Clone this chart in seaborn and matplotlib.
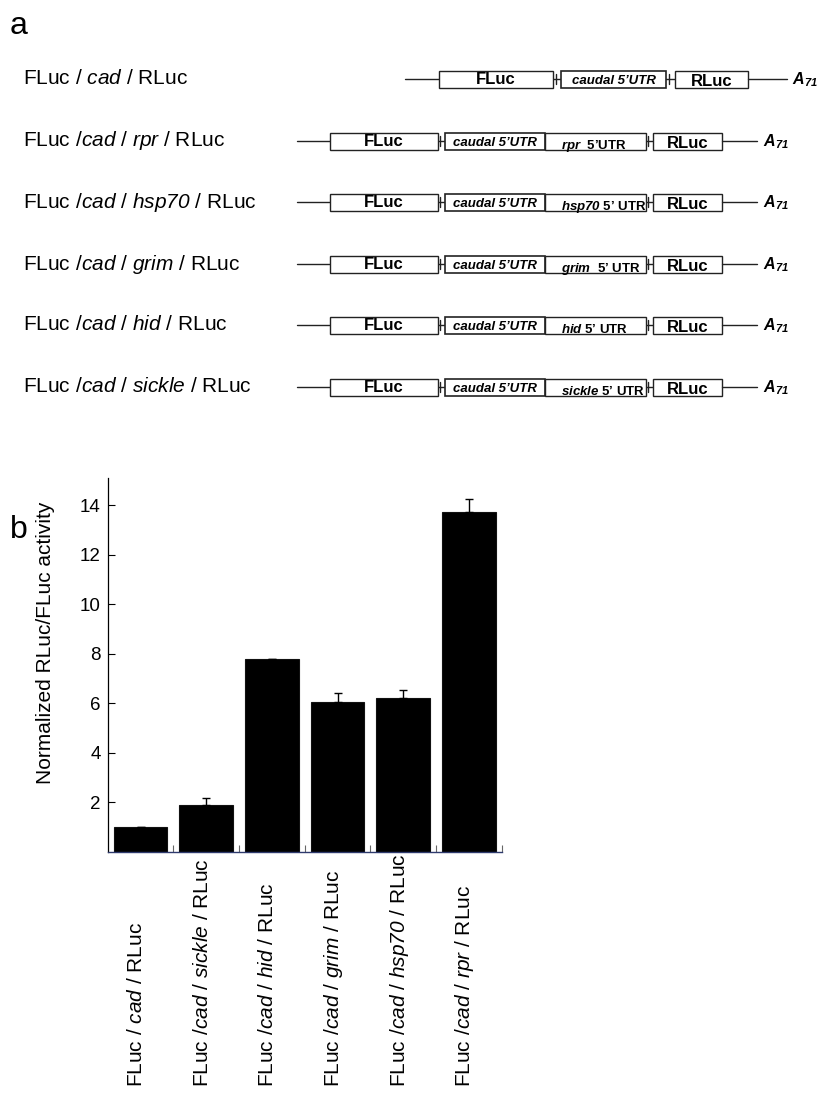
import matplotlib
matplotlib.use("Agg")
import numpy as np
import pandas as pd
import matplotlib.pyplot as plt
import matplotlib.transforms as mtransforms
from matplotlib.patches import Rectangle
import seaborn as sns

# ---- bar chart data (panel b) ----
bar_labels = [
    r"FLuc / $\mathit{cad}$ / RLuc",
    r"FLuc /$\mathit{cad}$ / $\mathit{sickle}$ / RLuc",
    r"FLuc /$\mathit{cad}$ / $\mathit{hid}$ / RLuc",
    r"FLuc /$\mathit{cad}$ / $\mathit{grim}$ / RLuc",
    r"FLuc /$\mathit{cad}$ / $\mathit{hsp70}$ / RLuc",
    r"FLuc /$\mathit{cad}$ / $\mathit{rpr}$ / RLuc",
]
activity = [1.0, 1.9, 7.78, 6.05, 6.22, 13.72]
activity_err = [0.0, 0.28, 0.03, 0.38, 0.34, 0.55]
y_ticks = [2, 4, 6, 8, 10, 12, 14]

# ---- reporter schematics (panel a), top to bottom ----
schematic_labels = [
    r"FLuc / $\mathit{cad}$ / RLuc",
    r"FLuc /$\mathit{cad}$ / $\mathit{rpr}$ / RLuc",
    r"FLuc /$\mathit{cad}$ / $\mathit{hsp70}$ / RLuc",
    r"FLuc /$\mathit{cad}$ / $\mathit{grim}$ / RLuc",
    r"FLuc /$\mathit{cad}$ / $\mathit{hid}$ / RLuc",
    r"FLuc /$\mathit{cad}$ / $\mathit{sickle}$ / RLuc",
]
second_utr = [None, "rpr", "hsp70", "grim", "hid", "sickle"]
second_utr_suffix = [None, "  5\u2019UTR", " 5\u2019 UTR", "  5\u2019 UTR", " 5\u2019 UTR", " 5\u2019 UTR"]

sns.set_style("ticks")
plt.rcParams["font.family"] = ["Liberation Sans", "DejaVu Sans"]
plt.rcParams["text.color"] = "black"
plt.rcParams["axes.labelcolor"] = "black"
plt.rcParams["xtick.color"] = "black"
plt.rcParams["ytick.color"] = "black"
plt.rcParams["mathtext.fontset"] = "custom"
# gene names are the only math segments, and they are set in italics throughout
plt.rcParams["mathtext.rm"] = "Liberation Sans:italic"
plt.rcParams["mathtext.it"] = "Liberation Sans:italic"
plt.rcParams["mathtext.bf"] = "Liberation Sans:italic:bold"
plt.rcParams["mathtext.bfit"] = "Liberation Sans:italic:bold"

W, H = 836, 1093
fig = plt.figure(figsize=(W / 100, H / 100), dpi=100)

# ---------- panel a: construct diagrams drawn on a pixel-unit canvas ----------
ax_a = fig.add_axes([0, 0, 1, 1])
ax_a.set_xlim(0, W)
ax_a.set_ylim(H, 0)
ax_a.axis("off")

ax_a.text(10, 26, "a", fontsize=23, va="center", ha="left")
ax_a.text(10, 530, "b", fontsize=23, va="center", ha="left")

row_y = [79, 141, 202, 264, 325, 387]
box_h = 17
ink = "#222222"

def draw_box(x0, x1, yc, lw=1.0):
    ax_a.add_patch(Rectangle((x0, yc - box_h / 2), x1 - x0, box_h,
                             facecolor="white", edgecolor=ink, lw=lw, zorder=2))

def draw_connector(x0, x1, yc):
    ax_a.plot([x0, x1], [yc, yc], color=ink, lw=1.0, zorder=1)
    xt = x0 + 0.35 * (x1 - x0)
    ax_a.plot([xt, xt], [yc - 5, yc + 5], color=ink, lw=1.0, zorder=1)

def draw_tail(x0, yc):
    ax_a.text(x0, yc + 1, r"$\mathbfit{A}_{\mathbfit{71}}$", fontsize=11.5,
              ha="left", va="center")

for i, (label, utr, suffix) in enumerate(zip(schematic_labels, second_utr, second_utr_suffix)):
    yc = row_y[i]
    ax_a.text(23, yc, label, fontsize=15, ha="left", va="center")
    if utr is None:
        lead0, lead1 = 405, 439
        f0, f1 = 439, 553
        c0, c1 = 561, 666
        r0, r1 = 675, 748
        t1 = 787
        tail_x = 792
    else:
        lead0, lead1 = 297, 330
        f0, f1 = 330, 438
        c0, c1 = 445, 545
        u0, u1 = 545, 646
        r0, r1 = 653, 722
        t1 = 757
        tail_x = 763
    ax_a.plot([lead0, lead1], [yc, yc], color=ink, lw=1.0)
    draw_box(f0, f1, yc)
    ax_a.text((f0 + f1) / 2, yc + 5, "FLuc", fontsize=12, fontweight="bold",
              ha="center", va="baseline")
    draw_connector(f1, c0, yc)
    draw_box(c0, c1, yc, lw=1.2)
    ax_a.text((c0 + c1) / 2, yc + 5, "caudal 5\u2019UTR", fontsize=9.5,
              fontweight="bold", fontstyle="italic", ha="center", va="baseline")
    if utr is None:
        draw_connector(c1, r0, yc)
    else:
        draw_box(u0, u1, yc)
        ax_a.text(u0 + 16, yc + box_h / 2 - 0.5,
                  r"$\mathbfit{" + utr + "}$" + suffix, fontsize=9.5,
                  fontweight="bold", ha="left", va="baseline")
        draw_connector(u1, r0, yc)
    draw_box(r0, r1, yc)
    ax_a.text((r0 + r1) / 2, yc + 7, "RLuc", fontsize=12, fontweight="bold",
              ha="center", va="baseline")
    ax_a.plot([r1, t1], [yc, yc], color=ink, lw=1.0)
    draw_tail(tail_x, yc)

# ---------- panel b: bar chart ----------
left, right = 107.7 / W, 501.7 / W
bottom, top = (H - 852) / H, (H - 478) / H
ax = fig.add_axes([left, bottom, right - left, top - bottom])

df = pd.DataFrame({"construct": bar_labels, "activity": activity, "err": activity_err})
sns.barplot(data=df, x="construct", y="activity", color="black", width=0.82,
            edgecolor="#111111", linewidth=0.8, saturation=1, errorbar=None, ax=ax)

xpos = np.arange(len(bar_labels))
ax.errorbar(xpos, df["activity"], yerr=[np.zeros(len(xpos)), df["err"]],
            fmt="none", ecolor="black", elinewidth=1.0, capsize=3, capthick=1.0)

ax.set_xlim(-0.5, len(bar_labels) - 0.5)
ax.set_ylim(0, 15.1)
ax.set_yticks(y_ticks)
ax.set_yticklabels([str(t) for t in y_ticks], fontsize=13.5)
ax.tick_params(axis="y", direction="in", length=5, width=0.8, pad=5, colors="black")

ax.set_xticks(xpos)
ax.set_xticklabels([])
ax.tick_params(axis="x", which="major", length=0)
ax.set_xticks(np.arange(len(bar_labels)) + 0.5, minor=True)
ax.tick_params(axis="x", which="minor", direction="in", length=5, width=0.8, color="#666666")

ax.set_xlabel("")
ax.set_ylabel("Normalized RLuc/FLuc activity", fontsize=15)
ax.yaxis.set_label_coords(-0.134, 0.56)

sns.despine(ax=ax, top=True, right=True)
ax.spines["left"].set_color("black")
ax.spines["left"].set_linewidth(0.9)
ax.spines["bottom"].set_color("#2e3a6e")
ax.spines["bottom"].set_linewidth(1.0)

# rotated category labels, anchored at their start near the bottom edge
trans = mtransforms.blended_transform_factory(ax.transData, fig.transFigure)
for x, lab in zip(xpos, bar_labels):
    ax.text(x - 0.06, (H - 1087) / H, lab, transform=trans, rotation=90,
            fontsize=15, ha="center", va="bottom", clip_on=False)

fig.savefig("out.png", dpi=100)
